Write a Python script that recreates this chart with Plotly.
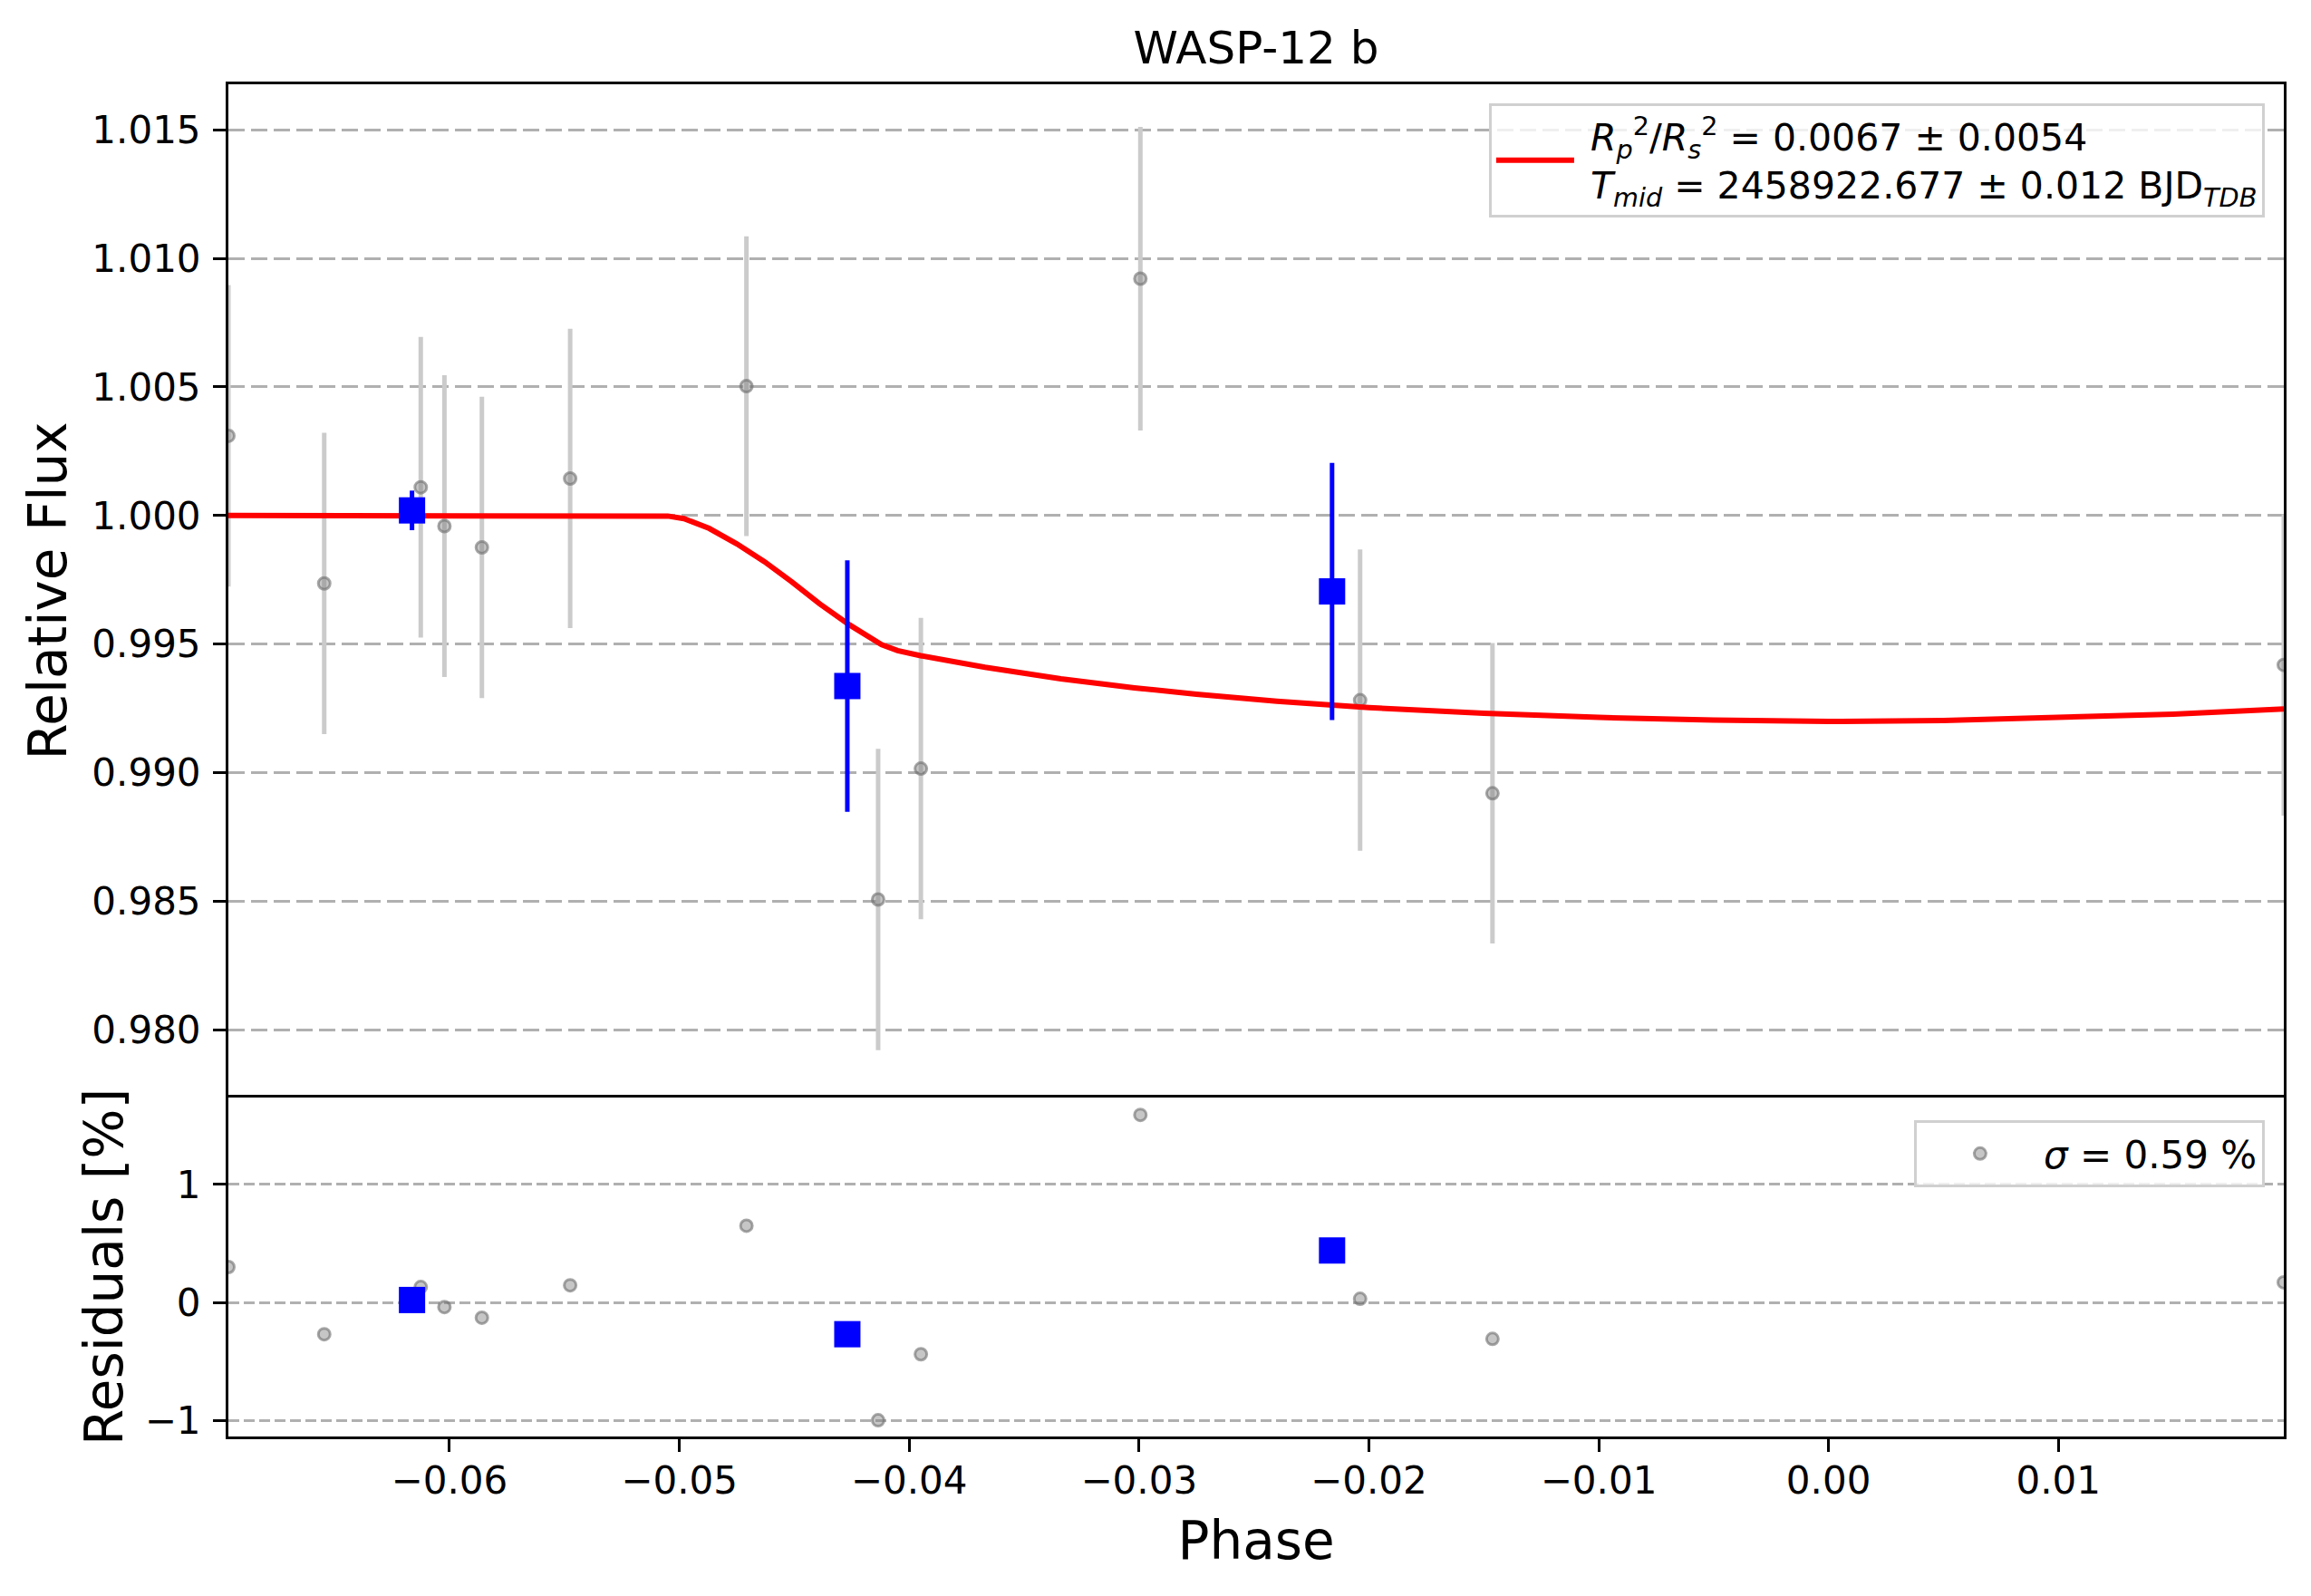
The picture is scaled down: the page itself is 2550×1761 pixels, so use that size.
import plotly.graph_objects as go
from plotly.subplots import make_subplots

# unbinned photometry (phase, relative flux, 1-sigma error, residual in %)
phase = [-0.06962, -0.06545, -0.06125, -0.06022, -0.05859, -0.05475, -0.04708,
         -0.04135, -0.03949, -0.02994, -0.02038, -0.01462, 0.01981]
flux = [1.00310, 0.99736, 1.00110, 0.99959, 0.99876, 1.00144, 1.00503,
        0.98507, 0.99016, 1.00921, 0.99282, 0.98920, 0.99419]
flux_err = [0.00586, 0.00586, 0.00585, 0.00587, 0.00586, 0.00582, 0.00583,
            0.00586, 0.00586, 0.00590, 0.00586, 0.00584, 0.00586]
resid = [0.30, -0.27, 0.13, -0.04, -0.13, 0.145, 0.65,
         -1.00, -0.44, 1.59, 0.03, -0.31, 0.17]

# binned points
bin_phase = [-0.06163, -0.04269, -0.02160]
bin_flux = [1.00020, 0.99337, 0.99705]
bin_err = [0.00077, 0.00489, 0.00500]
bin_resid = [0.02, -0.27, 0.44]

# transit model
model_phase = [-0.06962, -0.0510, -0.0505, -0.0498, -0.0487, -0.0475, -0.0463,
               -0.0451, -0.0439, -0.0426, -0.0418, -0.0412, -0.0405, -0.0395,
               -0.0367, -0.0334, -0.0302, -0.0275, -0.0240, -0.0200, -0.0150,
               -0.0100, -0.0050, 0.0000, 0.0050, 0.0100, 0.0150, 0.01981]
model_flux = [1.00000, 1.00000, 0.99998, 0.99988, 0.99950, 0.99890, 0.99821,
              0.99742, 0.99657, 0.99575, 0.99528, 0.99498, 0.99475, 0.99455,
              0.99410, 0.99365, 0.99330, 0.99305, 0.99278, 0.99253, 0.99231,
              0.99215, 0.99205, 0.99199, 0.99203, 0.99213, 0.99228, 0.99248]

flux_ticks = [0.980, 0.985, 0.990, 0.995, 1.000, 1.005, 1.010, 1.015]
resid_ticks = [-1, 0, 1]
phase_ticks = [-0.06, -0.05, -0.04, -0.03, -0.02, -0.01, 0.00, 0.01]

model_label = ("&nbsp;<i>R</i><sub><i>p</i></sub><sup>2</sup>/<i>R</i><sub><i>s</i></sub><sup>2</sup>"
               " = 0.0067 ± 0.0054<br>"
               "&nbsp;<i>T</i><sub><i>mid</i></sub> = 2458922.677 ± 0.012 BJD<sub><i>TDB</i></sub>")
sigma_label = "<i>σ</i> = 0.59 %"

FONT = "DejaVu Sans"
GRAY_FILL = "rgba(128,128,128,0.45)"
GRAY_EDGE = "rgba(110,110,110,0.6)"

# the page body adds an 8px margin, so the figure is drawn 8px in from the top-left
PAGE_PAD = 8
W, H = 2550 - 2 * PAGE_PAD, 1761 - 2 * PAGE_PAD

fig = make_subplots(rows=2, cols=1, shared_xaxes=True, vertical_spacing=0,
                    row_heights=[0.7493, 0.2507])

# main panel
fig.add_trace(go.Scatter(
    x=phase, y=flux, mode="markers", showlegend=False,
    marker=dict(symbol="circle", size=13, color=GRAY_FILL, line=dict(color=GRAY_EDGE, width=3)),
    error_y=dict(type="data", array=flux_err, color="#cbcbcb", thickness=5, width=0),
), row=1, col=1)
fig.add_trace(go.Scatter(
    x=model_phase, y=model_flux, mode="lines", name=model_label, legend="legend",
    line=dict(color="#ff0000", width=6),
), row=1, col=1)
fig.add_trace(go.Scatter(
    x=bin_phase, y=bin_flux, mode="markers", showlegend=False,
    marker=dict(symbol="square", size=29, color="#0000ff", line=dict(width=0)),
    error_y=dict(type="data", array=bin_err, color="#0000ff", thickness=5, width=0),
), row=1, col=1)

# residual panel
fig.add_trace(go.Scatter(
    x=phase, y=resid, mode="markers", name=sigma_label, legend="legend2",
    marker=dict(symbol="circle", size=13, color=GRAY_FILL, line=dict(color=GRAY_EDGE, width=3)),
), row=2, col=1)
fig.add_trace(go.Scatter(
    x=bin_phase, y=bin_resid, mode="markers", showlegend=False,
    marker=dict(symbol="square", size=29, color="#0000ff", line=dict(width=0)),
), row=2, col=1)

axis_common = dict(showline=True, linecolor="black", linewidth=3, mirror=True,
                   zeroline=False, tickcolor="black", tickwidth=3, ticklen=14,
                   tickfont=dict(family=FONT, size=42, color="black"))

x_range = [min(phase), max(phase)]
fig.update_xaxes(range=x_range, showgrid=False, **axis_common)
# top panel: only its top edge, the shared edge is drawn by the residual axis
fig.update_xaxes(ticks="", showticklabels=False, side="top", mirror=False, row=1, col=1)
fig.update_xaxes(ticks="outside", tickvals=phase_ticks, tickformat=".2f",
                 ticklabelstandoff=-4,
                 title=dict(text="Phase", font=dict(family=FONT, size=58, color="black"), standoff=22),
                 row=2, col=1)

fig.update_yaxes(**axis_common)
fig.update_yaxes(range=[0.97737, 1.01677], tickvals=flux_ticks, tickformat=".3f",
                 ticks="outside", ticklabelstandoff=5,
                 showgrid=True, gridcolor="#b0b0b0", gridwidth=3, griddash="18px,7px",
                 title=dict(text="Relative Flux", font=dict(family=FONT, size=58, color="black"), standoff=10),
                 row=1, col=1)
fig.update_yaxes(range=[-1.1375, 1.7375], tickvals=resid_ticks,
                 ticks="outside", ticklabelstandoff=5,
                 showgrid=True, gridcolor="#b0b0b0", gridwidth=3, griddash="12px,5px",
                 title=dict(text="Residuals [%]", font=dict(family=FONT, size=58, color="black"), standoff=6),
                 row=2, col=1)

fig.update_layout(
    width=W, height=H,
    margin=dict(l=252 - PAGE_PAD, r=W + PAGE_PAD - 2520, t=93 - PAGE_PAD, b=H + PAGE_PAD - 1585),
    paper_bgcolor="white", plot_bgcolor="white",
    font=dict(family=FONT, color="black"),
    title=dict(text="WASP-12 b", x=0.5, xref="paper", xanchor="center",
               y=1 - (52 - PAGE_PAD) / H, yref="container", yanchor="middle",
               font=dict(family=FONT, size=50, color="black")),
    legend=dict(x=0.9907, xanchor="right", y=0.9859, yanchor="top",
                bgcolor="rgba(255,255,255,0.8)", bordercolor="#d0d0d0", borderwidth=3,
                font=dict(family=FONT, size=41, color="black"), itemwidth=86),
    legend2=dict(x=0.9907, xanchor="right", y=0.2339, yanchor="top",
                 bgcolor="rgba(255,255,255,0.8)", bordercolor="#d0d0d0", borderwidth=3,
                 font=dict(family=FONT, size=42, color="black"), itemwidth=130),
    showlegend=True,
)

fig.write_html("out.html")
